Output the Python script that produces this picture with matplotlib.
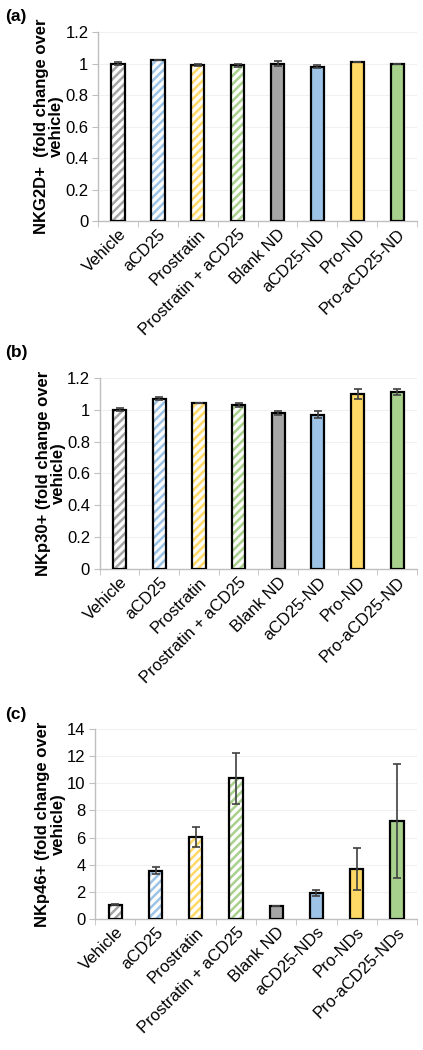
import matplotlib
matplotlib.use("Agg")
import matplotlib.pyplot as plt
import numpy as np

plt.rcParams['font.family'] = ['Liberation Sans', 'DejaVu Sans']
plt.rcParams['hatch.linewidth'] = 1.8

cats_ab = ["Vehicle", "aCD25", "Prostratin", "Prostratin + aCD25",
           "Blank ND", "aCD25-ND", "Pro-ND", "Pro-aCD25-ND"]
cats_c = ["Vehicle", "aCD25", "Prostratin", "Prostratin + aCD25",
          "Blank ND", "aCD25-NDs", "Pro-NDs", "Pro-aCD25-NDs"]

nkg2d = [1.00, 1.02, 0.99, 0.99, 1.00, 0.98, 1.01, 1.00]
nkg2d_err = [0.01, 0.0, 0.006, 0.01, 0.015, 0.01, 0.0, 0.0]
nkp30 = [1.00, 1.07, 1.04, 1.03, 0.98, 0.97, 1.10, 1.11]
nkp30_err = [0.01, 0.01, 0.0, 0.01, 0.01, 0.02, 0.03, 0.02]
nkp46 = [1.05, 3.55, 6.05, 10.35, 0.95, 1.90, 3.65, 7.25]
nkp46_err = [0.05, 0.25, 0.72, 1.90, 0.0, 0.20, 1.55, 4.20]

colors = ["#a6a6a6", "#9dc3e6", "#ffd966", "#a9d18e"] * 2
hatched = [True] * 4 + [False] * 4

fig = plt.figure(figsize=(4.23, 10.5), dpi=100)

panels = [
    ([0.232, 0.7895, 0.754, 0.180], nkg2d, nkg2d_err, cats_ab, (0, 1.2), 0.2,
     "NKG2D+  (fold change over\nvehicle)", "(a)", 0.991),
    ([0.236, 0.4581, 0.750, 0.182], nkp30, nkp30_err, cats_ab, (0, 1.2), 0.2,
     "NKp30+ (fold change over\nvehicle)", "(b)", 0.671),
    ([0.225, 0.1248, 0.761, 0.181], nkp46, nkp46_err, cats_c, (0, 14), 2,
     "NKp46+ (fold change over\nvehicle)", "(c)", 0.327),
]

for rect, vals, errs, cats, ylim, step, ylab, plab, py in panels:
    ax = fig.add_axes(rect)
    x = np.arange(len(vals))
    w = 0.33
    for xi, v, c, h in zip(x, vals, colors, hatched):
        if h:
            ax.bar(xi, v, w, color="white", edgecolor=c, hatch="////", linewidth=0, zorder=2)
        else:
            ax.bar(xi, v, w, color=c, linewidth=0, zorder=2)
        ax.bar(xi, v, w, fill=False, edgecolor="black", linewidth=1.6, zorder=3)
    ax.errorbar(x, vals, yerr=errs, fmt="none", ecolor="#404040", elinewidth=1.2,
                capsize=2.8, capthick=1.2, zorder=4)
    ax.set_xlim(-0.5, len(vals) - 0.5)
    ax.set_ylim(*ylim)
    ticks = np.arange(ylim[0], ylim[1] + step / 2, step)
    ax.set_yticks(ticks)
    if step < 1:
        ax.set_yticklabels([("%g" % round(t, 1)) for t in ticks])
    ax.yaxis.grid(True, color="#f0f0f0", linewidth=0.8, zorder=0)
    ax.set_axisbelow(True)
    for s in ["top", "right"]:
        ax.spines[s].set_visible(False)
    for s in ["left", "bottom"]:
        ax.spines[s].set_color("#bfbfbf")
        ax.spines[s].set_linewidth(1.0)
    ax.set_xticks(x)
    ax.set_xticklabels(cats, rotation=45, ha="right", rotation_mode="anchor", fontsize=12)
    ax.tick_params(axis="x", length=0, pad=4)
    ax.set_xticks(np.arange(-0.5, len(vals)), minor=True)
    ax.tick_params(axis="x", which="minor", length=4, color="#bfbfbf", direction="out")
    ax.tick_params(axis="y", length=4, color="#bfbfbf", labelsize=12, pad=3)
    ax.set_ylabel(ylab, fontsize=12, fontweight="bold", linespacing=1.0, labelpad=1)
    fig.text(0.012, py, plab, fontsize=12.5, fontweight="bold", va="top", ha="left")

fig.savefig("out.png", dpi=100)
